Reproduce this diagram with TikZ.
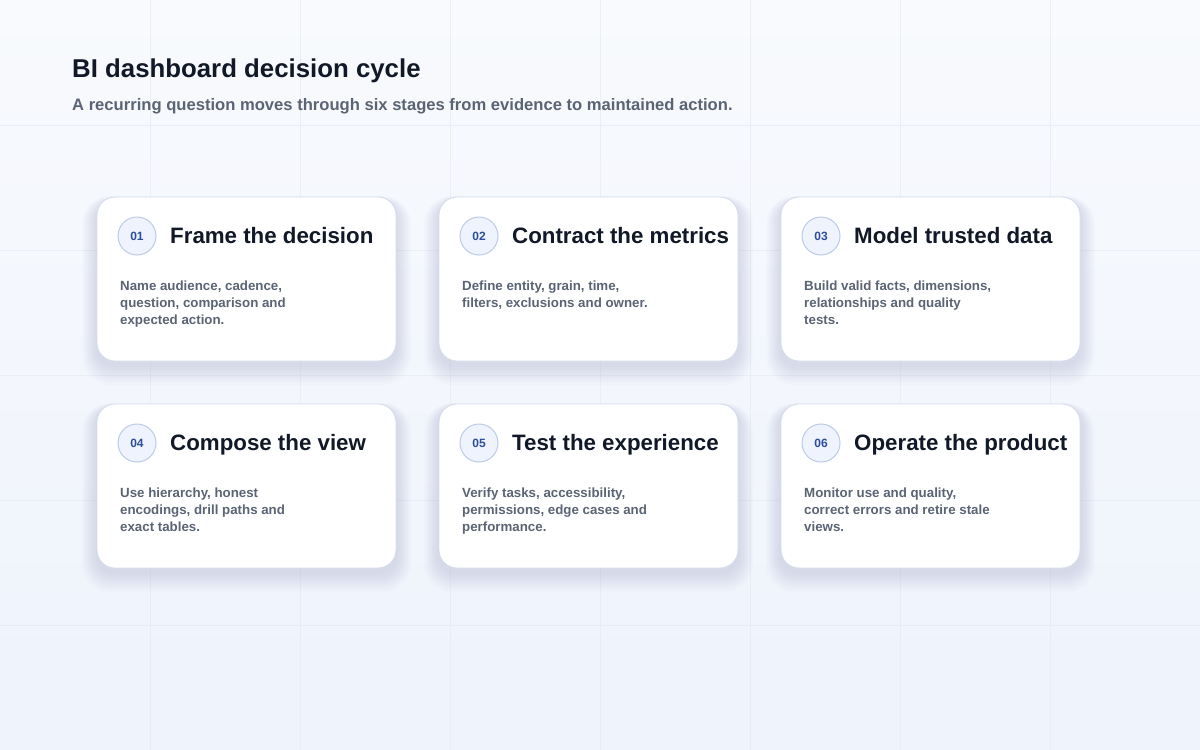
\documentclass[tikz,border=0pt]{standalone}
\usepackage{fontspec}
\setmainfont{Liberation Sans}
\usetikzlibrary{positioning}

\definecolor{bgtop}{HTML}{F8FAFD}
\definecolor{bgbot}{HTML}{EEF3FC}
\definecolor{gridline}{HTML}{E4E9F1}
\definecolor{cardline}{HTML}{D5DDEA}
\definecolor{ink}{HTML}{111827}
\definecolor{muted}{HTML}{5A6475}
\definecolor{badgefill}{HTML}{EEF3FD}
\definecolor{badgeline}{HTML}{BCCBE6}
\definecolor{badgeink}{HTML}{2D4E9B}

\tikzset{
	card/.style={draw=cardline, line width=0.9pt, fill=white, rounded corners=18pt},
	badge/.style={circle, draw=badgeline, line width=1pt, fill=badgefill, minimum size=38pt, inner sep=0pt,
		text=badgeink, font=\fontsize{12}{14}\selectfont\bfseries},
	cardtitle/.style={anchor=base west, inner sep=0pt, text=ink, font=\fontsize{22.3}{26}\selectfont\bfseries},
	cardtext/.style={anchor=north west, inner sep=0pt, align=left, text=muted, font=\fontsize{13.3}{17}\selectfont\bfseries}
}

\begin{document}
\begin{tikzpicture}[x=1pt, y=-1pt]
	\useasboundingbox (0,0) rectangle (1200,750);
	\shade[top color=bgtop, bottom color=bgbot] (0,0) rectangle (1200,750);
	\foreach \gx in {150,300,...,1050}
		\draw[gridline, opacity=0.6, line width=0.6pt] (\gx,0) -- (\gx,750);
	\foreach \gy in {125,250,...,625}
		\draw[gridline, opacity=0.6, line width=0.6pt] (0,\gy) -- (1200,\gy);

	\node[anchor=base west, inner sep=0pt, text=ink, font=\fontsize{25.8}{30}\selectfont\bfseries] (heading) at (72,77) {BI dashboard decision cycle};
	\node[anchor=base west, inner sep=0pt, text=muted, font=\fontsize{16.6}{20}\selectfont\bfseries] (subheading) at (72,110) {A recurring question moves through six stages from evidence to maintained action.};

	% cards: x, y, number, title, text
	\foreach \cx/\cy/\num/\head/\body in {
		97/197/01/Frame the decision/{Name audience, cadence,\\question, comparison and\\expected action.},
		439/197/02/Contract the metrics/{Define entity, grain, time,\\filters, exclusions and owner.},
		781/197/03/Model trusted data/{Build valid facts, dimensions,\\relationships and quality\\tests.},
		97/404/04/Compose the view/{Use hierarchy, honest\\encodings, drill paths and\\exact tables.},
		439/404/05/Test the experience/{Verify tasks, accessibility,\\permissions, edge cases and\\performance.},
		781/404/06/Operate the product/{Monitor use and quality,\\correct errors and retire stale\\views.}}
	{
		% soft shadow
		\foreach \s in {1,...,10}
			\fill[black!40!blue!60!gray, opacity=0.011, rounded corners=18pt+\s pt]
				(\cx-\s*1.5, \cy+5-\s*0.6) rectangle (\cx+299+\s*1.5, \cy+168+\s*2);
		\draw[card] (\cx,\cy) rectangle (\cx+299,\cy+164);
		\node[badge] (badge\num) at (\cx+40,\cy+39) {\num};
		\node[cardtitle] (title\num) at (\cx+73,\cy+46) {\head};
		\node[cardtext] (text\num) at (\cx+23,\cy+84) {\body};
	}
\end{tikzpicture}
\end{document}
